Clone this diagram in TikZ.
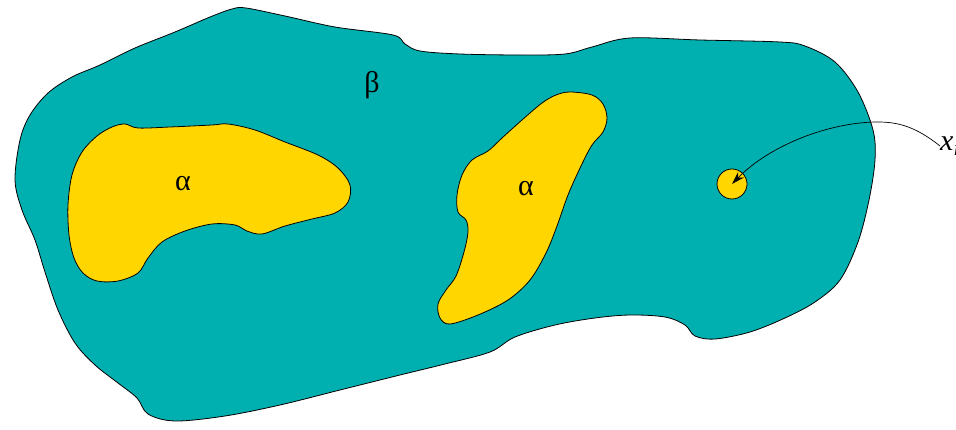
\documentclass[tikz,border=0pt]{standalone}
\usepackage{fontspec}
\setmainfont{Liberation Serif}
\usetikzlibrary{arrows.meta}
\definecolor{teal0}{RGB}{0,176,176}
\definecolor{gold0}{RGB}{255,214,0}
\begin{document}
\begin{tikzpicture}[x=1pt,y=-1pt,
  region/.style={draw=black,line width=0.8pt},
  lbl/.style={font=\fontsize{30}{34}\selectfont,inner sep=0pt}]
\useasboundingbox (0,0) rectangle (956,430);
\clip (0,0) rectangle (956,430);
% outer region beta
\draw[region,fill=teal0] plot[smooth cycle,tension=0.55] coordinates {
 (246,8) (285,16) (335,27) (393,35) (405,44) (420,51) (460,54) (520,55) (565,54) (592,47)
 (630,38) (700,40) (780,42) (805,46) (835,62) (858,92) (873,130) (875,160) (869,200)
 (858,242) (840,280) (815,302) (785,318) (750,332) (715,339) (695,336) (685,325)
 (665,317) (630,315) (595,318) (555,325) (515,337) (490,352) (445,364) (400,375)
 (340,390) (280,405) (225,416) (175,421) (148,414) (137,398) (118,383) (95,365)
 (75,343) (58,310) (45,272) (35,240) (22,210) (15,180) (20,140) (30,115) (48,93)
 (72,77) (100,65) (135,48) (175,32) (210,17) (232,9)};
% left alpha
\draw[region,fill=gold0] plot[smooth cycle,tension=0.55] coordinates {
 (125,124) (138,128) (170,127) (212,125) (228,124) (255,130) (285,142) (318,155)
 (338,168) (350,185) (348,202) (335,213) (312,219) (285,226) (262,234) (247,231)
 (235,225) (212,224) (185,231) (162,242) (148,258) (138,273) (118,281) (97,281)
 (83,273) (74,258) (69,235) (68,205) (72,175) (82,152) (97,136) (112,127)};
% middle alpha
\draw[region,fill=gold0] plot[smooth cycle,tension=0.55] coordinates {
 (570,92) (592,95) (603,104) (607,118) (603,132) (592,145) (581,166) (568,195)
 (557,226) (546,253) (530,280) (508,300) (478,315) (450,324) (440,318) (438,304)
 (446,290) (456,276) (464,252) (468,232) (466,220) (458,212) (457,195) (462,175)
 (472,160) (488,151) (502,138) (522,120) (542,103) (556,95)};
% point
\node[region,fill=gold0,circle,minimum size=30pt,inner sep=0pt] (pt) at (732,184) {};
\coordinate (pc) at (732,184);
\node[lbl] (b) at (372,85) {β};
\node[lbl] (a1) at (183,184) {α};
\node[lbl] (a2) at (526,189) {α};
\node[lbl,anchor=west] (xl) at (940,146) {\textit{x}\textsubscript{\textit{i}}};
\coordinate (top) at (878,122);
\draw[line width=0.7pt] (xl.west) .. controls (915,126) and (897,122) .. (top);
\draw[line width=0.7pt,-{Stealth[length=13pt,width=8pt]}] (top) .. controls (830,122) and (770,145) .. (pc);
\end{tikzpicture}
\end{document}
